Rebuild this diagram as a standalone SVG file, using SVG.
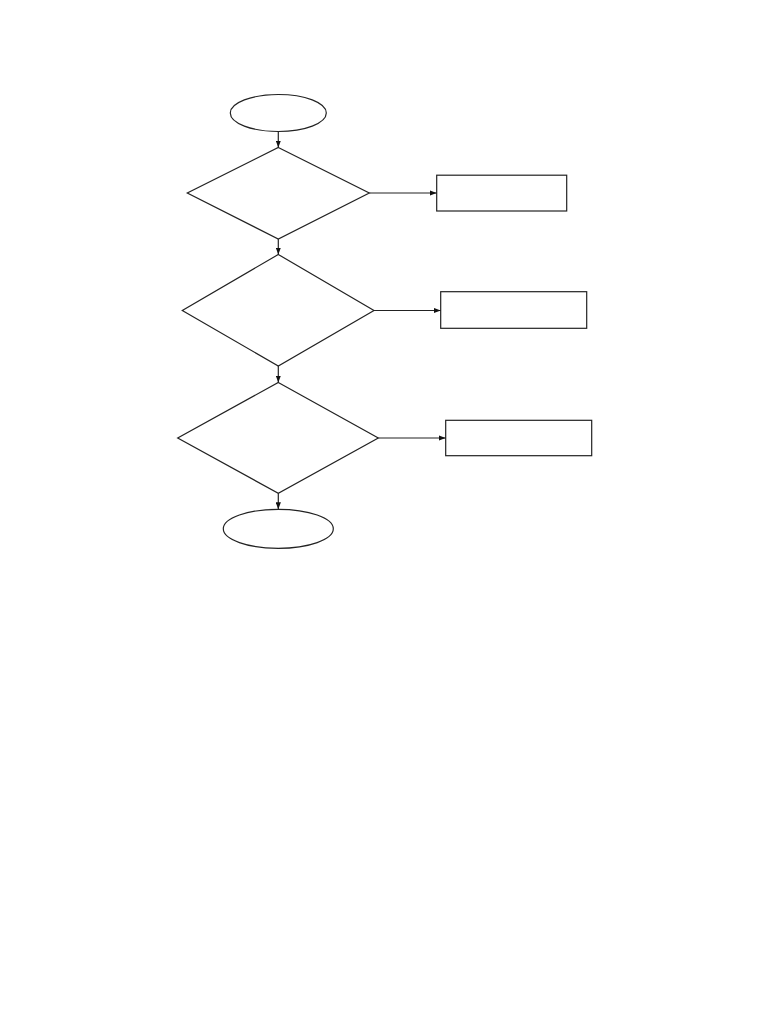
<svg xmlns="http://www.w3.org/2000/svg" width="768" height="1024" viewBox="0 0 768 1024">
<style>
.s{fill:#fff;stroke:#222;stroke-width:1.2}
.c{fill:none;stroke:#222;stroke-width:1.2;marker-end:url(#a)}
</style>
<defs>
<marker id="a" viewBox="0 0 8 6" refX="8" refY="3" markerWidth="7" markerHeight="5.5" markerUnits="userSpaceOnUse" orient="auto">
<path d="M0,0L8,3L0,6z" fill="#111"/>
</marker>
</defs>
<rect width="768" height="1024" fill="#fff"/>
<g id="start"><ellipse class="s" cx="278.3" cy="113" rx="48" ry="18.5"/></g>
<g id="decision1"><polygon class="s" points="278.3,147.5 369.3,193 278.3,239 187.3,193"/></g>
<g id="box1"><rect class="s" x="436.7" y="175.2" width="130" height="35.8"/></g>
<g id="decision2"><polygon class="s" points="278.3,254.5 374,310.5 278.3,366 182.3,310.5"/></g>
<g id="box2"><rect class="s" x="440.7" y="291.7" width="146" height="36.6"/></g>
<g id="decision3"><polygon class="s" points="278.3,382.5 378.3,438 278.3,493.3 177.7,438"/></g>
<g id="box3"><rect class="s" x="445.7" y="420.3" width="146" height="35.4"/></g>
<g id="end"><ellipse class="s" cx="278.3" cy="528.8" rx="55" ry="19.5"/></g>
<g id="connectors">
<line class="c" x1="278.3" y1="131.5" x2="278.3" y2="147.5"/>
<line class="c" x1="369.3" y1="193" x2="436.7" y2="193"/>
<line class="c" x1="278.3" y1="239" x2="278.3" y2="254.5"/>
<line class="c" x1="374" y1="310.5" x2="440.7" y2="310.5"/>
<line class="c" x1="278.3" y1="366" x2="278.3" y2="382.5"/>
<line class="c" x1="378.3" y1="438" x2="445.7" y2="438"/>
<line class="c" x1="278.3" y1="493.3" x2="278.3" y2="509.3"/>
</g>
</svg>
